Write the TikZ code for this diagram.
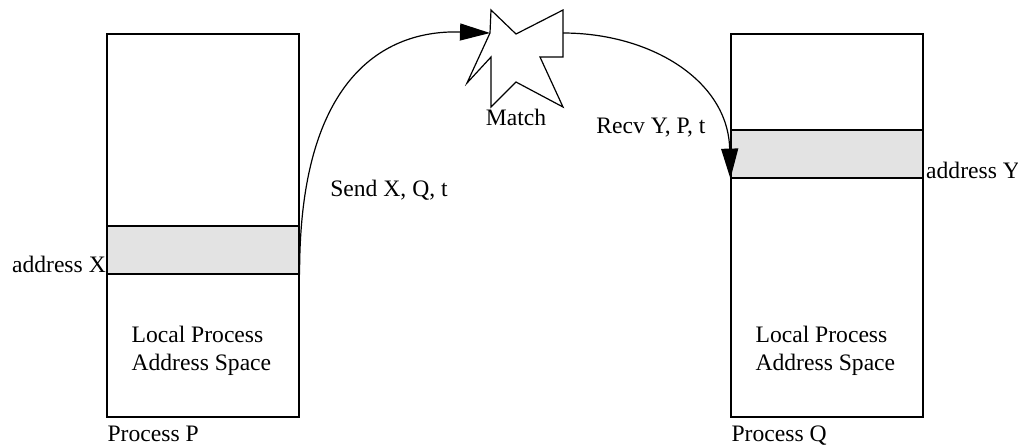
\documentclass[tikz,border=0pt]{standalone}
\usepackage{fontspec}
\setmainfont{Liberation Serif}
\usetikzlibrary{arrows.meta}
\begin{document}
\begin{tikzpicture}[x=0.5pt,y=-0.5pt,
  line width=0.6pt,
  lbl/.style={font=\fontsize{11.8}{14}\selectfont, inner sep=0pt},
  membox/.style={draw, minimum width=96pt, minimum height=191.5pt, inner sep=0pt},
  band/.style={draw, fill=black!11, minimum width=96pt, minimum height=24pt, inner sep=0pt},
  msg/.style={-{Triangle[length=15pt,width=8.5pt]}}]
\useasboundingbox (0,0) rectangle (1018,447);
% process P
\node[membox] (P) at (203,225.5) {};
\node[band] (bx) at (203,250) {};
% process Q
\node[membox] (Q) at (827,225.5) {};
\node[band] (by) at (827,154) {};
% star
\draw[fill=white] (491,10) -- (516,34) -- (563,10) -- (563,57) -- (540,57) -- (563,107)
  -- (516,82) -- (491,107) -- (491,57) -- (467,83) -- (490,33) -- cycle;
\coordinate (sl) at (490,33);
\coordinate (sr) at (563,33);
% labels
\node[lbl, anchor=base east] (ax) at (bx.south west) [yshift=1pt] {address X};
\node[lbl, anchor=base west] (ay) at (by.south east) [xshift=1pt] {address Y};
\node[lbl] (m) at (516,117) {Match};
\node[lbl] (sx) at (389,190) {Send X, Q, t};
\node[lbl] (ry) at (651,128) {Recv Y, P, t};
\node[lbl, anchor=west, align=left] (lp) at (131,351) {Local Process\\Address Space};
\node[lbl, anchor=west, align=left] (lq) at (755,351) {Local Process\\Address Space};
\node[lbl, anchor=base west] (pp) at (107,441) {Process P};
\node[lbl, anchor=base west] (pq) at (731,441) {Process Q};
% arrows
\draw[msg] (bx.south east) .. controls (299,60) and (400,30) .. (sl);
\draw[msg] (sr) .. controls (650,33) and (728,80) .. (by.south west);
\end{tikzpicture}
\end{document}
